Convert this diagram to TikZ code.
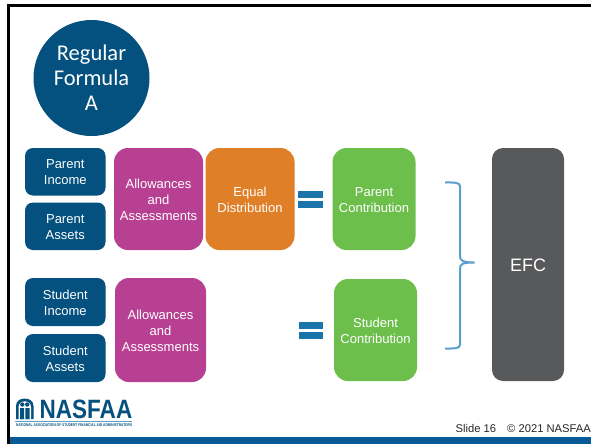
\documentclass[tikz,border=0pt]{standalone}
\usepackage{fontspec}
\setmainfont{Liberation Sans}
\newfontfamily\carlito{Carlito}
\definecolor{navy}{HTML}{04507E}
\definecolor{magent}{HTML}{B84093}
\definecolor{orng}{HTML}{DF7F27}
\definecolor{grn}{HTML}{6CBF4B}
\definecolor{slate}{HTML}{58595B}
\definecolor{barblue}{HTML}{065B97}
\definecolor{eqblue}{HTML}{1B75AB}
\definecolor{brc}{HTML}{5A9FCB}
\tikzset{
  x=1pt,y=-1pt,
  box/.style={draw=none,text=white,align=center,font=\fontsize{13}{16}\selectfont,inner sep=0pt,yshift=-0.7pt},
  eqbar/.style={fill=eqblue,draw=none}
}
\newcommand{\boxat}[6]{% name, x0,y0,x1,y1, fill+radius in #6
  \path[#6] (#2,#3) rectangle (#4,#5);
  \coordinate (#1) at ({(#2+#4)/2},{(#3+#5)/2});}
\begin{document}
\begin{tikzpicture}
\useasboundingbox (0,0) rectangle (591,444);
\fill[white] (0,0) rectangle (591,444);
% slide frame
\fill[black] (7,4) rectangle (591,6.6);
\fill[black] (7,4) rectangle (9.6,444);
\fill[barblue] (9.6,437) rectangle (591,444);
% circle
\node[circle,fill=navy,minimum size=116pt,inner sep=0pt] (circ) at (91.5,78) {};
\node[text=white,align=center,font=\carlito\fontsize{22.5}{25}\selectfont] (circt) at (circ) {Regular\\Formula\\A};
% parent inputs
\boxat{pi}{25}{148}{105.5}{195.5}{fill=navy,rounded corners=8pt}
\node[box] (pit) at (pi) {Parent\\Income};
\boxat{pa}{25}{202.5}{105.5}{250}{fill=navy,rounded corners=8pt}
\node[box] (pat) at (pa) {Parent\\Assets};
\boxat{aa}{114}{148}{203}{250}{fill=magent,rounded corners=14pt}
\node[box] (aat) at (aa) {Allowances\\and\\Assessments};
\boxat{ed}{205.5}{148}{294.5}{250}{fill=orng,rounded corners=14pt}
\node[box] (edt) at (ed) {Equal\\Distribution};
\fill[eqbar] (298,190.5) rectangle (323,197.5);
\fill[eqbar] (298,200.5) rectangle (323,207.5);
\boxat{pc}{332.5}{148}{415.5}{250}{fill=grn,rounded corners=14pt}
\node[box] (pct) at (pc) {Parent\\Contribution};
% student inputs
\boxat{si}{25}{278}{105.5}{326}{fill=navy,rounded corners=8pt}
\node[box] (sit) at (si) {Student\\Income};
\boxat{sa}{25}{334}{105.5}{382}{fill=navy,rounded corners=8pt}
\node[box] (sat) at (sa) {Student\\Assets};
\boxat{ab}{115}{278}{206}{382}{fill=magent,rounded corners=14pt}
\node[box] (abt) at (ab) {Allowances\\and\\Assessments};
\fill[eqbar] (299,321.5) rectangle (323,329);
\fill[eqbar] (299,331.5) rectangle (323,338.5);
\boxat{sc}{334}{279}{417}{381}{fill=grn,rounded corners=14pt}
\node[box] (sct) at (sc) {Student\\Contribution};
% brace
\coordinate (bt) at (445,182.5);
\coordinate (bb) at (445,348.5);
\coordinate (bm) at (474.5,262.5);
\draw[brc,line width=2pt] (bt) .. controls (452,182.5) and (460,182) .. (460,186)
  -- (460,256) .. controls (460,260) and (462,262.5) .. (bm)
  (bm) .. controls (462,262.5) and (460,264) .. (460,269)
  -- (460,345) .. controls (460,349) and (452,348.5) .. (bb);
% EFC
\boxat{efc}{492}{148}{564}{381}{fill=slate,rounded corners=11pt}
\node[box,font=\fontsize{18}{20}\selectfont] (efct) at (efc) {EFC};
% footer
\node[anchor=east,inner sep=0pt,font=\fontsize{11.2}{13}\selectfont,text=black!85] (foot) at (591,428) {Slide 16\hspace{11pt}© 2021 NASFAA};
% logo
\node[anchor=west,inner sep=0pt,font=\bfseries\fontsize{26.5}{26.5}\selectfont,text=navy,xscale=.85] (nas) at (39.5,409.5) {NASFAA};
\node[anchor=west,inner sep=0pt,text=navy] (small) at (16,425.5) {\resizebox{116pt}{2.8pt}{\bfseries NATIONAL ASSOCIATION OF STUDENT FINANCIAL AID ADMINISTRATORS}};
\fill[navy] (16,419) -- (16,406) .. controls (16,396) and (33.5,396) .. (33.5,406) -- (33.5,419) -- cycle;
\fill[white] (18.5,419) -- (18.5,407) .. controls (18.5,399.5) and (31,399.5) .. (31,407) -- (31,419) -- cycle;
\fill[navy] (22.3,404.5) circle (2.2) (27.2,404.5) circle (2.2);
\fill[navy] (20,408) rectangle (24.2,419) (25.3,408) rectangle (29.5,419);
\draw[brc,line width=0.7pt] (15,421.7) -- (132,421.7);
\end{tikzpicture}
\end{document}
